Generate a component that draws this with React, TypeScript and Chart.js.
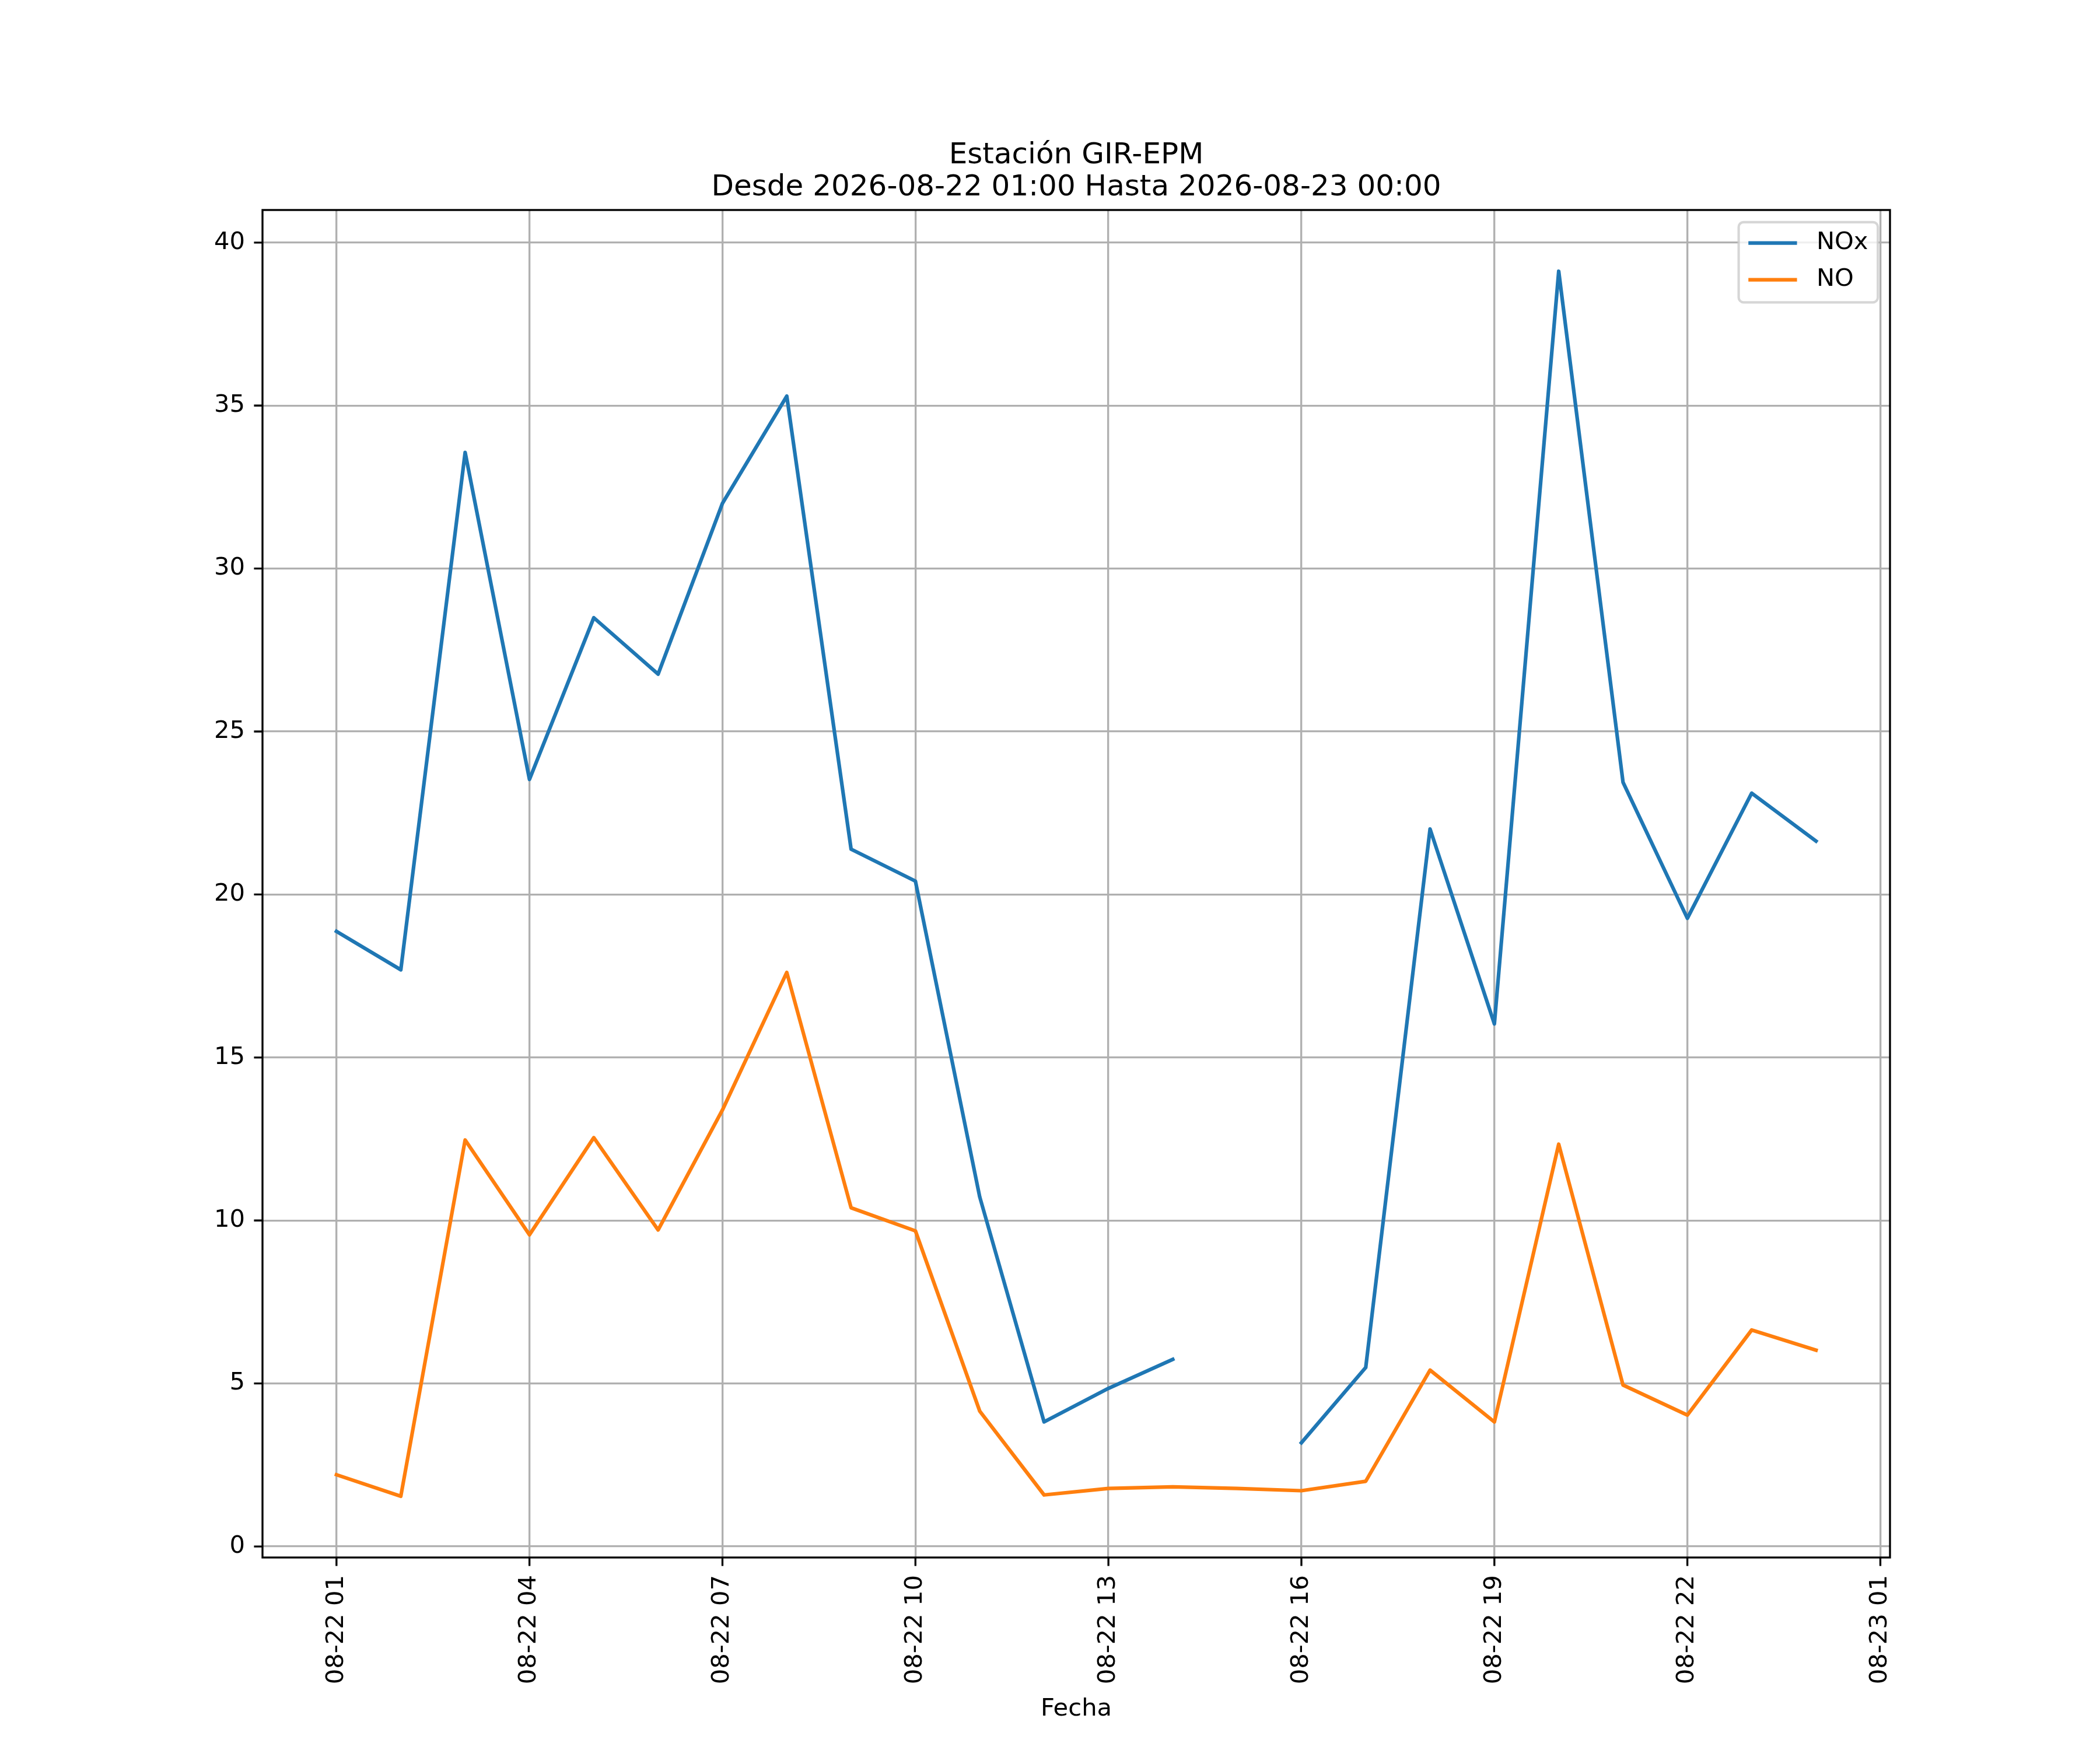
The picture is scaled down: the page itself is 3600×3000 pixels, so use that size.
import { useEffect, useRef } from 'react';
import { Chart, registerables } from 'chart.js';

Chart.register(...registerables);

// hours after 2026-08-22 00:00 (24 = 2026-08-23 00:00)
const hours = [1, 2, 3, 4, 5, 6, 7, 8, 9, 10, 11, 12, 13, 14, 15, 16, 17, 18, 19, 20, 21, 22, 23, 24];
const noxValues = [
  18.87, 17.69, 33.56, 23.53, 28.49, 26.76, 32.0, 35.29, 21.39, 20.41, 10.72, 3.82,
  4.85, 5.74, null, 3.18, 5.49, 22.01, 16.03, 39.12, 23.44, 19.27, 23.11, 21.64,
];
const noValues = [
  2.2, 1.54, 12.47, 9.56, 12.54, 9.71, 13.39, 17.61, 10.39, 9.68, 4.15, 1.58,
  1.78, 1.83, 1.78, 1.71, 2.0, 5.41, 3.82, 12.34, 4.95, 4.03, 6.64, 6.02,
];
const seriesLabels = ['NOx', 'NO'];
const seriesColors = ['#1f77b4', '#ff7f0e'];

const xTickHours = [1, 4, 7, 10, 13, 16, 19, 22, 25];
const xTickLabels = ['08-22 01', '08-22 04', '08-22 07', '08-22 10', '08-22 13', '08-22 16', '08-22 19', '08-22 22', '08-23 01'];
const yTickValues = [0, 5, 10, 15, 20, 25, 30, 35, 40];

const titleLines = ['Estación GIR-EPM', 'Desde 2026-08-22 01:00 Hasta 2026-08-23 00:00'];
const xAxisLabel = 'Fecha';

const PT = 300 / 72; // figure is 12x10 in at 300 dpi
const FS = 10 * PT;
const FAMILY = "'DejaVu Sans', sans-serif";

// matplotlib style autoscale margins
const allValues = [...noxValues, ...noValues].filter((v) => v !== null) as number[];
const yLo = Math.min(...allValues);
const yHi = Math.max(...allValues);
const xSpan = hours[hours.length - 1] - hours[0];

const mplPlugin = {
  id: 'mplFrame',
  afterDatasetsDraw(chart: any) {
    const { ctx, chartArea: a, scales } = chart;
    ctx.save();
    ctx.strokeStyle = '#000';
    ctx.lineWidth = 0.8 * PT;
    ctx.beginPath();
    scales.x.ticks.forEach((t: any) => {
      const px = scales.x.getPixelForValue(t.value);
      ctx.moveTo(px, a.bottom);
      ctx.lineTo(px, a.bottom + 3.5 * PT);
    });
    scales.y.ticks.forEach((t: any) => {
      const py = scales.y.getPixelForValue(t.value);
      ctx.moveTo(a.left - 3.5 * PT, py);
      ctx.lineTo(a.left, py);
    });
    ctx.stroke();
    ctx.strokeRect(a.left, a.top, a.right - a.left, a.bottom - a.top);

    // legend, upper right
    ctx.font = `${FS}px ${FAMILY}`;
    const textW = Math.max(...seriesLabels.map((s) => ctx.measureText(s).width));
    const boxW = 0.4 * FS + 2 * FS + 0.8 * FS + textW + 0.4 * FS;
    const boxH = 2 * 0.4 * FS + 2 * FS + 0.5 * FS;
    const boxL = a.right - 0.5 * FS - boxW;
    const boxT = a.top + 0.5 * FS;
    ctx.beginPath();
    ctx.roundRect(boxL, boxT, boxW, boxH, 0.2 * FS);
    ctx.fillStyle = 'rgba(255,255,255,0.8)';
    ctx.fill();
    ctx.strokeStyle = 'rgba(204,204,204,0.8)';
    ctx.lineWidth = 1 * PT;
    ctx.stroke();
    seriesLabels.forEach((label, i) => {
      const cy = boxT + 0.86 * FS + i * 1.51 * FS;
      const hx = boxL + 0.4 * FS;
      ctx.beginPath();
      ctx.strokeStyle = seriesColors[i];
      ctx.lineWidth = 1.5 * PT;
      ctx.lineCap = 'butt';
      ctx.moveTo(hx, cy);
      ctx.lineTo(hx + 2 * FS, cy);
      ctx.stroke();
      ctx.fillStyle = '#000';
      ctx.textAlign = 'left';
      ctx.textBaseline = 'middle';
      ctx.fillText(label, hx + 2.8 * FS, cy);
    });
    ctx.restore();
  },
  afterDraw(chart: any) {
    const { ctx, chartArea: a } = chart;
    ctx.save();
    ctx.font = `${12 * PT}px ${FAMILY}`;
    ctx.fillStyle = '#000';
    ctx.textAlign = 'center';
    ctx.textBaseline = 'alphabetic';
    const cx = (a.left + a.right) / 2;
    ctx.fillText(titleLines[0], cx, a.top - 80);
    ctx.fillText(titleLines[1], cx, a.top - 25);
    ctx.restore();
  },
};

export default function App() {
  const canvasRef = useRef<HTMLCanvasElement>(null);

  useEffect(() => {
    if (!canvasRef.current) return;
    const tickFont = { family: FAMILY, size: FS };
    const chart = new Chart(canvasRef.current, {
      type: 'line',
      data: {
        datasets: [noxValues, noValues].map((vals, i) => ({
          label: seriesLabels[i],
          data: hours.map((h, j) => ({ x: h, y: vals[j] })),
          borderColor: seriesColors[i],
          backgroundColor: seriesColors[i],
          borderWidth: 1.5 * PT,
          borderJoinStyle: 'round',
          borderCapStyle: 'square',
          pointRadius: 0,
          tension: 0,
          spanGaps: false,
          fill: false,
        })),
      } as any,
      options: {
        animation: false,
        responsive: false,
        devicePixelRatio: 1,
        layout: { padding: { left: 0, top: 360, right: 360, bottom: 0 } },
        plugins: {
          legend: { display: false },
          title: { display: false },
          tooltip: { enabled: false },
        },
        scales: {
          x: {
            type: 'linear',
            min: hours[0] - 0.05 * xSpan,
            max: hours[hours.length - 1] + 0.05 * xSpan,
            afterBuildTicks: (s: any) => {
              s.ticks = xTickHours.map((v) => ({ value: v }));
            },
            afterFit: (s: any) => {
              s.height = 330;
            },
            ticks: {
              autoSkip: false,
              minRotation: 90,
              maxRotation: 90,
              padding: 30,
              color: '#000',
              font: tickFont,
              callback: (_v: any, i: number) => xTickLabels[i],
            },
            grid: { color: '#b0b0b0', lineWidth: 0.8 * PT, drawTicks: false },
            border: { display: false },
            title: {
              display: true,
              text: xAxisLabel,
              color: '#000',
              font: tickFont,
              padding: { top: 0, bottom: 45 },
            },
          },
          y: {
            type: 'linear',
            min: yLo - 0.05 * (yHi - yLo),
            max: yHi + 0.05 * (yHi - yLo),
            afterBuildTicks: (s: any) => {
              s.ticks = yTickValues.map((v) => ({ value: v }));
            },
            afterFit: (s: any) => {
              s.width = 450;
            },
            ticks: {
              padding: 30,
              color: '#000',
              font: tickFont,
              callback: (v: any) => String(v),
            },
            grid: { color: '#b0b0b0', lineWidth: 0.8 * PT, drawTicks: false },
            border: { display: false },
          },
        },
      } as any,
      plugins: [mplPlugin],
    });
    return () => chart.destroy();
  }, []);

  return (
    <div style={{ position: 'absolute', left: 0, top: 0, width: 3600, height: 3000, background: '#fff' }}>
      <canvas ref={canvasRef} width={3600} height={3000} />
    </div>
  );
}
